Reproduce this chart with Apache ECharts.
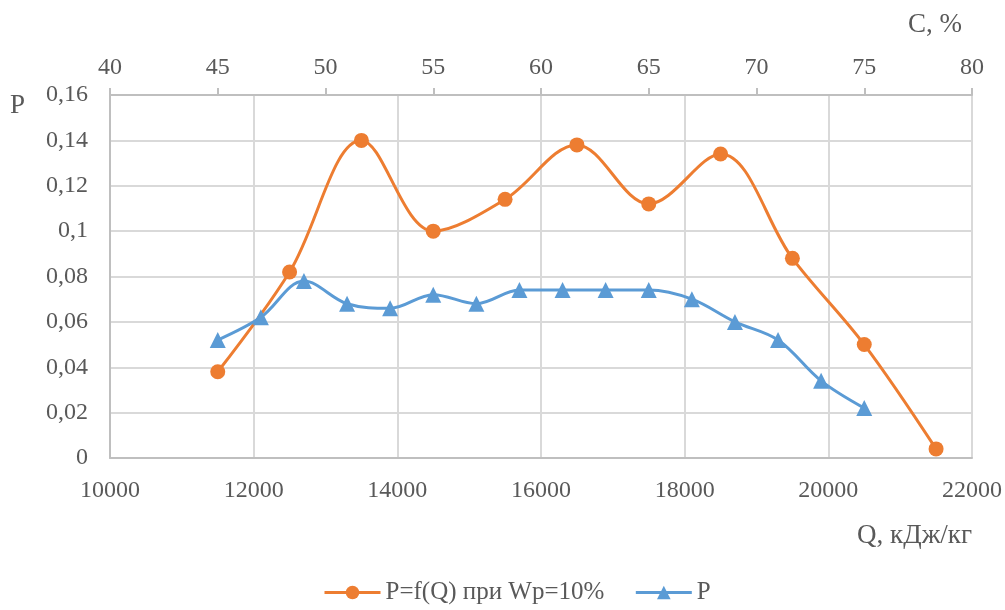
<!DOCTYPE html>
<html><head><meta charset="utf-8">
<script src="https://cdn.jsdelivr.net/npm/echarts@6/dist/echarts.min.js"></script>
<style>html,body{margin:0;padding:0;background:#fff}#c{width:1005px;height:610px}</style>
</head><body><div id="c"></div>
<script>
// Orange series: P = f(Q) at Wp = 10% (bottom axis, Q kJ/kg)
const qValues = [11500, 12500, 13500, 14500, 15500, 16500, 17500, 18500, 19500, 20500, 21500];
const pOrange = [0.038, 0.082, 0.140, 0.100, 0.114, 0.138, 0.112, 0.134, 0.088, 0.050, 0.004];
// Blue series: P vs C, % (top axis)
const cValues = [45, 47, 49, 51, 53, 55, 57, 59, 61, 63, 65, 67, 69, 71, 73, 75];
const pBlue = [0.052, 0.062, 0.078, 0.068, 0.066, 0.072, 0.068, 0.074, 0.074, 0.074, 0.074, 0.070, 0.060, 0.052, 0.034, 0.022];
const seriesNames = ['P=f(Q) при Wp=10%', 'P'];

const FONT = '"Liberation Serif", "Times New Roman", serif';
const LABEL = '#595959';
const chart = echarts.init(document.getElementById('c'));
chart.setOption({
  animation: false,
  grid: { left: 110, right: 33, top: 95, bottom: 152 },
  xAxis: [
    { type: 'value', position: 'bottom', min: 10000, max: 22000, interval: 2000,
      axisLine: { show: true, onZero: false, lineStyle: { color: '#bfbfbf', width: 2 } },
      axisTick: { show: false },
      axisLabel: { color: LABEL, fontFamily: FONT, fontSize: 24, margin: 21, formatter: v => String(v) },
      splitLine: { show: true, lineStyle: { color: '#d9d9d9', width: 2 } } },
    { type: 'value', position: 'top', min: 40, max: 80, interval: 5,
      axisLine: { show: true, onZero: false, lineStyle: { color: '#bfbfbf', width: 2 } },
      axisTick: { show: true, length: 7, lineStyle: { color: '#bfbfbf', width: 2 } },
      axisLabel: { color: LABEL, fontFamily: FONT, fontSize: 24, margin: 15, formatter: v => String(v) },
      splitLine: { show: false } }
  ],
  yAxis: { type: 'value', min: 0, max: 0.16, interval: 0.02,
    axisLine: { show: true, lineStyle: { color: '#bfbfbf', width: 2 } },
    axisTick: { show: false },
    axisLabel: { color: LABEL, fontFamily: FONT, fontSize: 24, margin: 22,
      formatter: v => String(+v.toFixed(2)).replace('.', ',') },
    splitLine: { show: true, lineStyle: { color: '#d9d9d9', width: 2 } } },
  legend: { bottom: 0, left: 318, itemWidth: 56, itemHeight: 17, itemGap: 30,
    lineStyle: { width: 3 },
    textStyle: { color: LABEL, fontFamily: FONT, fontSize: 25 },
    data: seriesNames },
  graphic: [
    { type: 'text', left: 10, top: 92, style: { text: 'P', font: '27px ' + FONT, fill: LABEL } },
    { type: 'text', right: 43, top: 11, style: { text: 'C, %', font: '27px ' + FONT, fill: LABEL } },
    { type: 'text', right: 33, top: 522, style: { text: 'Q, кДж/кг', font: '27px ' + FONT, fill: LABEL } }
  ],
  series: [
    { name: seriesNames[0], type: 'line', xAxisIndex: 0, smooth: 0.35,
      data: qValues.map((q, i) => [q, pOrange[i]]),
      symbol: 'circle', symbolSize: 15,
      lineStyle: { color: '#ED7D31', width: 3 }, itemStyle: { color: '#ED7D31' } },
    { name: seriesNames[1], type: 'line', xAxisIndex: 1, smooth: 0.35,
      data: cValues.map((c, i) => [c, pBlue[i]]),
      symbol: 'triangle', symbolSize: 16,
      lineStyle: { color: '#5B9BD5', width: 3 }, itemStyle: { color: '#5B9BD5' } }
  ]
});
</script></body></html>
